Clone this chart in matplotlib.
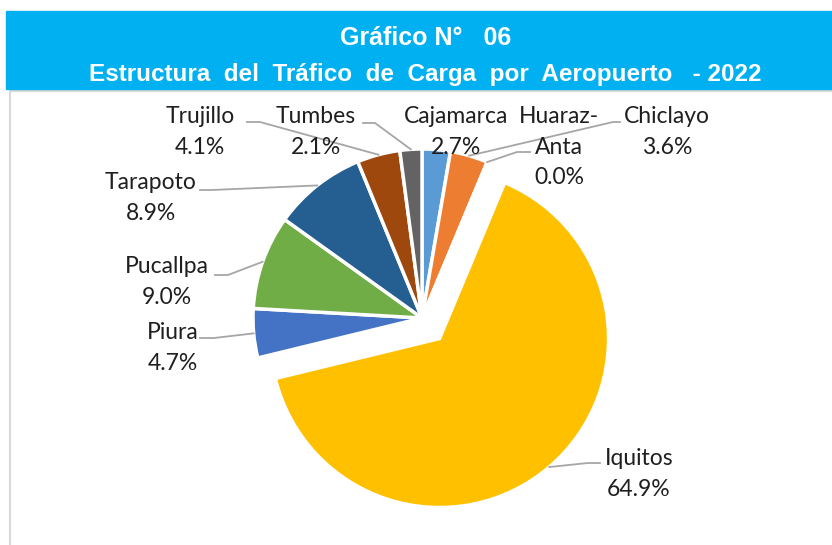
import numpy as np
import matplotlib.pyplot as plt
from matplotlib.patches import Rectangle

# datos del grafico
aeropuertos = ['Cajamarca', 'Chiclayo', 'Huaraz-\nAnta', 'Iquitos', 'Piura',
               'Pucallpa', 'Tarapoto', 'Trujillo', 'Tumbes']
participacion = [2.7, 3.6, 0.0, 64.9, 4.7, 9.0, 8.9, 4.1, 2.1]
colores = ['#5B9BD5', '#ED7D31', '#A5A5A5', '#FFC000', '#4472C4',
           '#70AD47', '#255E91', '#9E480E', '#636363']
titulo1 = 'Gráfico N°   06'
titulo2 = 'Estructura  del  Tráfico  de  Carga  por  Aeropuerto   - 2022'

W, H = 832, 545


def py(y):
    # pixel (desde arriba) -> coordenada y del eje
    return H - y


# posicion de las etiquetas (centro del bloque, en pixeles)
pos_etiquetas = {
    'Cajamarca': (456, 132),
    'Chiclayo': (667, 132),
    'Huaraz-\nAnta': (559, 147),
    'Iquitos': (639, 474),
    'Piura': (173, 348),
    'Pucallpa': (167, 282),
    'Tarapoto': (151, 198),
    'Trujillo': (200, 132),
    'Tumbes': (316, 132),
}
# lineas guia: puntos del lado de la etiqueta
guias = {
    'Chiclayo': [(620, 122), (613, 122)],
    'Huaraz-\nAnta': [(530, 152), (517, 152)],
    'Iquitos': [(600, 463), (588, 463)],
    'Piura': [(200, 338), (214, 338)],
    'Pucallpa': [(215, 275), (228, 275)],
    'Tarapoto': [(200, 190), (212, 190)],
    'Trujillo': [(247, 122), (260, 122)],
    'Tumbes': [(363, 123), (375, 123)],
}

fig = plt.figure(figsize=(W / 100, H / 100), dpi=100)
ax = fig.add_axes([0, 0, 1, 1])

explode = [27 if a == 'Iquitos' else 0 for a in aeropuertos]
wedges, _ = ax.pie(participacion, colors=colores, startangle=90, counterclock=False,
                   center=(422, py(318)), radius=169, explode=explode,
                   wedgeprops=dict(edgecolor='white', linewidth=2.5))

ax.set_xlim(0, W)
ax.set_ylim(0, H)
ax.set_aspect('equal')
ax.axis('off')

# barra del titulo
ax.add_patch(Rectangle((6, py(89)), W - 6, 78, color='#00B0F0', zorder=5))
ax.plot([9.5, 9.5, W], [0, py(90.5), py(90.5)], color='#D9D9D9', lw=1.5, zorder=4)
ax.text(426, py(38), titulo1, color='white', fontsize=18, fontweight='bold',
        family='Liberation Sans', ha='center', va='center', zorder=6)
ax.text(425, py(75), titulo2, color='white', fontsize=17.5, fontweight='bold',
        family='Liberation Sans', ha='center', va='center', zorder=6)

for w, nombre, val in zip(wedges, aeropuertos, participacion):
    x, y = pos_etiquetas[nombre]
    ax.text(x, py(y), f'{nombre}\n{val:.1f}%', ha='center', va='center',
            fontsize=16.5, family='Lato', color='#1F1F1F', linespacing=1.58, zorder=7)
    if nombre in guias:
        tm = np.deg2rad((w.theta1 + w.theta2) / 2)
        cx, cy = w.center
        ax_pt = (cx + w.r * np.cos(tm), cy + w.r * np.sin(tm))
        xs = [p[0] for p in guias[nombre]] + [ax_pt[0]]
        ys = [py(p[1]) for p in guias[nombre]] + [ax_pt[1]]
        ax.plot(xs, ys, color='#A6A6A6', lw=1.3, zorder=3)

fig.savefig('out.png', dpi=100)
